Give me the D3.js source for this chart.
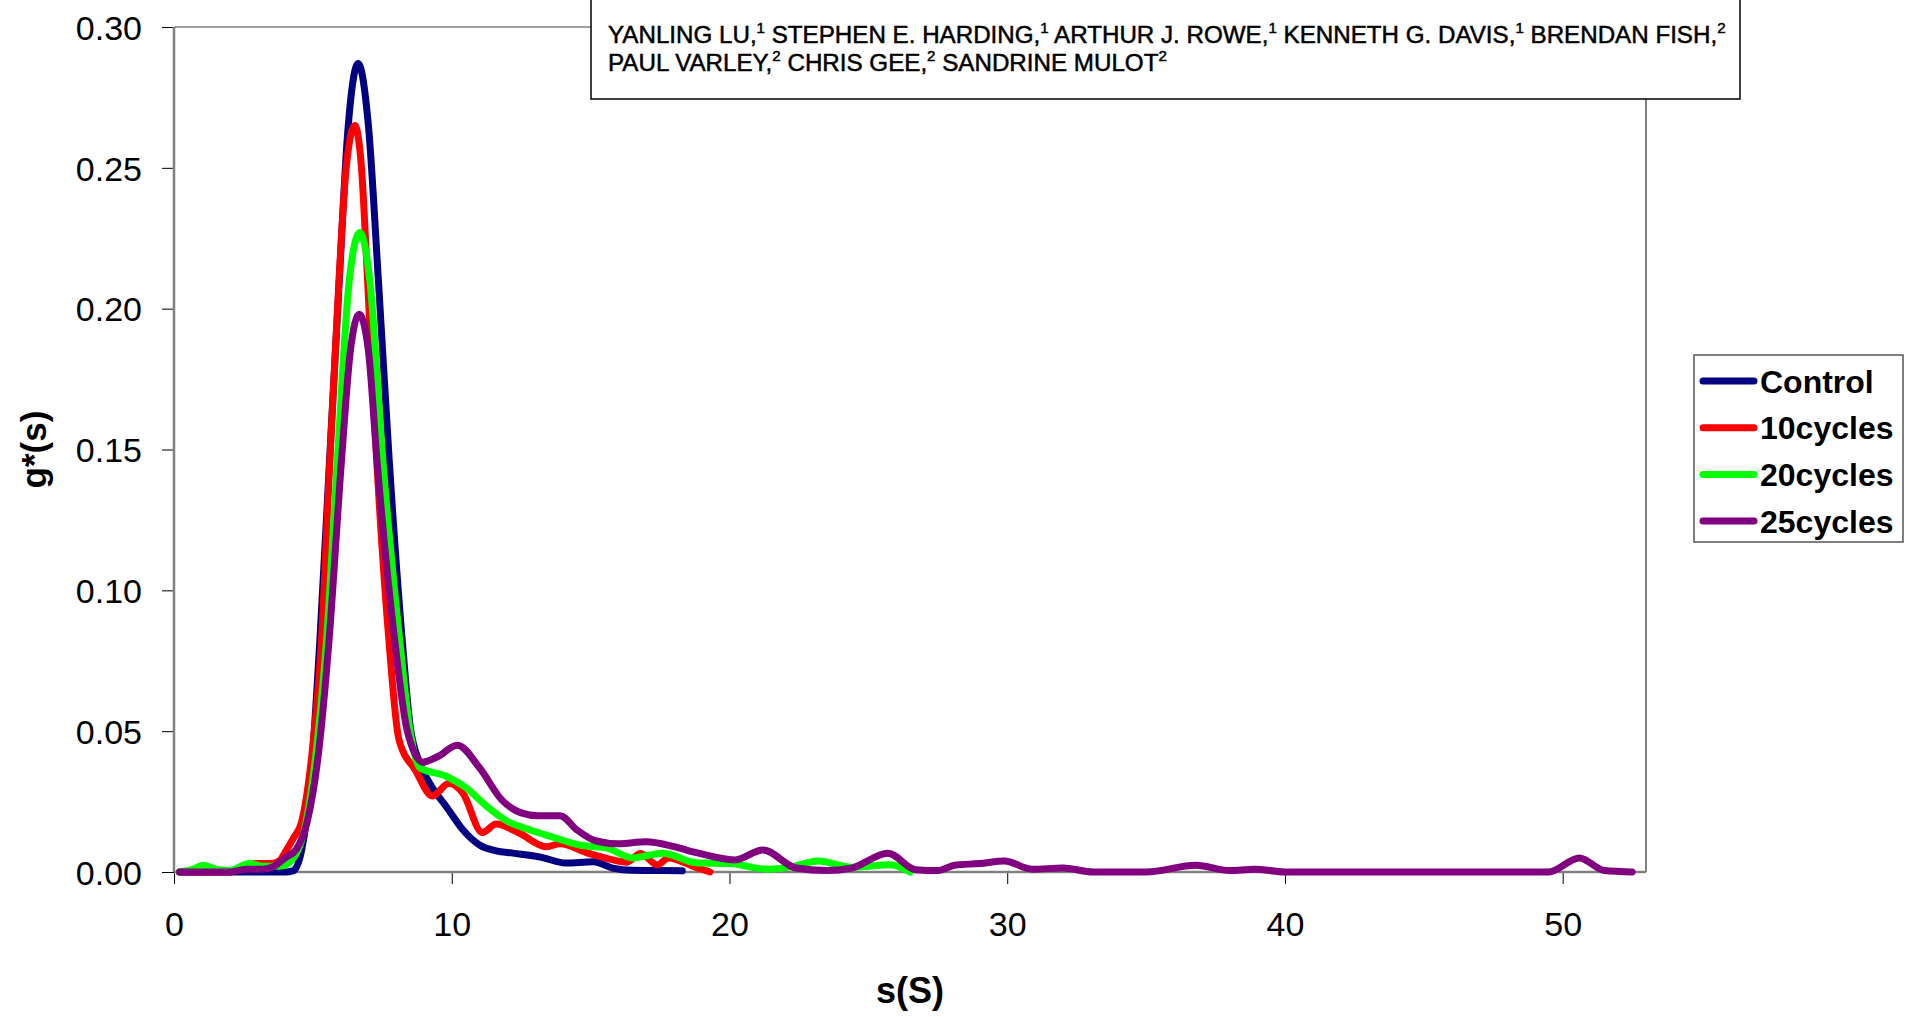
<!DOCTYPE html>
<html><head><meta charset="utf-8">
<script src="https://cdn.jsdelivr.net/npm/d3@7/dist/d3.min.js"></script>
<style>body{margin:0;background:#fff} svg{display:block}</style>
</head><body>
<svg id="c" width="1910" height="1017"></svg>
<script>
// ---------- data ----------
const seriesNames = ["Control", "10cycles", "20cycles", "25cycles"];
const seriesColors = ["#000080", "#FF0000", "#00FF00", "#800080"];

const controlData = [[0.2,0],[2,0],[4,0],[4.3,0.0005],[4.6,0.008],[4.9,0.03],[5.25,0.082],[5.6,0.146],[5.95,0.21],[6.25,0.262],[6.63,0.287],[7.0,0.265],[7.36,0.21],[7.75,0.146],[8.22,0.082],[8.5,0.052],[8.85,0.0387],[9.3,0.03],[9.82,0.023],[10.4,0.015],[11.0,0.0096],[11.6,0.0075],[12.2,0.0067],[13.2,0.0053],[14.1,0.0032],[15.1,0.0036],[15.8,0.0014],[16.5,0.0006],[17.5,0.0005],[18.3,0.0004]];

const cycles10Data = [[0.2,0],[2,0],[2.5,0.002],[3.0,0.003],[3.5,0.003],[3.8,0.004],[4.0,0.007],[4.3,0.012],[4.6,0.018],[5.0,0.045],[5.31,0.082],[5.61,0.146],[5.94,0.21],[6.2,0.25],[6.51,0.265],[6.75,0.25],[6.97,0.21],[7.3,0.146],[7.74,0.082],[8.1,0.047],[8.7,0.036],[9.3,0.027],[9.9,0.0315],[10.4,0.028],[11.1,0.014],[11.6,0.017],[12.4,0.014],[13.4,0.009],[13.9,0.010],[14.9,0.0067],[15.8,0.0043],[16.3,0.0035],[16.8,0.0066],[17.4,0.0025],[17.8,0.005],[18.7,0.002],[19.3,0]];

const cycles20Data = [[0.2,0],[0.7,0.001],[1.04,0.0024],[1.5,0.001],[2.0,0.0005],[2.7,0.003],[3.2,0.002],[3.8,0.002],[4.3,0.005],[4.8,0.02],[5.2,0.05],[5.49,0.082],[5.88,0.146],[6.31,0.21],[6.69,0.227],[7.05,0.21],[7.52,0.146],[8.13,0.082],[8.5,0.05],[8.85,0.037],[9.8,0.034],[10.5,0.030],[11.3,0.023],[12.0,0.018],[12.8,0.015],[13.6,0.0125],[14.6,0.0096],[15.6,0.0085],[16.5,0.005],[17.6,0.0067],[18.8,0.0033],[20.0,0.003],[21.4,0.001],[22.3,0.002],[23.2,0.0039],[24.4,0.0017],[25.8,0.0026],[26.5,0]];

const cycles25Data = [[0.2,0],[2.0,0],[2.6,0.001],[3.2,0.001],[3.6,0.002],[4.0,0.005],[4.4,0.008],[4.8,0.018],[5.2,0.042],[5.58,0.082],[6.03,0.146],[6.35,0.185],[6.67,0.198],[7.0,0.185],[7.31,0.146],[7.95,0.082],[8.4,0.05],[8.96,0.039],[9.5,0.041],[10.2,0.045],[11.0,0.037],[11.8,0.0256],[12.5,0.021],[13.1,0.020],[13.9,0.020],[14.5,0.015],[15.2,0.011],[16.0,0.010],[17.0,0.0107],[18.0,0.009],[18.8,0.0069],[20.2,0.0043],[21.2,0.0078],[22.4,0.0014],[23.5,0.0005],[24.4,0.0014],[25.7,0.0067],[26.7,0.0008],[27.5,0.0005],[28.1,0.0024],[29.0,0.003],[29.9,0.0039],[30.9,0.001],[32.0,0.0014],[33.1,0],[35,0],[36.8,0.0024],[38.0,0.0005],[38.9,0.001],[40,0],[49.5,0],[50.6,0.005],[51.5,0.0005],[52.5,0]];

const xTicks = [0, 10, 20, 30, 40, 50];
const yTicks = [0, 0.05, 0.10, 0.15, 0.20, 0.25, 0.30];
const xLabel = "s(S)";
const yLabel = "g*(s)";
const authorLine1 = [["YANLING LU,",0],["1",1],[" STEPHEN E. HARDING,",0],["1",1],[" ARTHUR J. ROWE,",0],["1",1],[" KENNETH G. DAVIS,",0],["1",1],[" BRENDAN FISH,",0],["2",1]];
const authorLine2 = [["PAUL VARLEY,",0],["2",1],[" CHRIS GEE,",0],["2",1],[" SANDRINE MULOT",0],["2",1]];

const allSeries = [controlData, cycles10Data, cycles20Data, cycles25Data];

// ---------- layout ----------
const svg = d3.select("#c");
const L = 174, R = 1646, T = 27, B = 872;
const x = d3.scaleLinear().domain([0, 53]).range([L, R]);
const y = d3.scaleLinear().domain([0, 0.30]).range([B, T]);
const sans = "'Liberation Sans', Arial, sans-serif";

// top / right border
svg.append("line").attr("x1", L).attr("x2", R).attr("y1", T).attr("y2", T).attr("stroke", "#808080").attr("stroke-width", 1.5);
svg.append("line").attr("x1", R).attr("x2", R).attr("y1", T).attr("y2", B).attr("stroke", "#808080").attr("stroke-width", 2);

// axes
const yAxis = svg.append("g").attr("transform", `translate(${L},0)`)
  .call(d3.axisLeft(y).tickValues(yTicks).tickFormat(d3.format(".2f")).tickSize(12).tickPadding(20));
const xAxis = svg.append("g").attr("transform", `translate(0,${B})`)
  .call(d3.axisBottom(x).tickValues(xTicks).tickFormat(d3.format("d")).tickSize(12).tickPadding(28));
[yAxis, xAxis].forEach(a => {
  a.select(".domain").remove();
  a.selectAll(".tick line").attr("stroke", "#000").attr("stroke-width", 1);
  a.selectAll(".tick text").attr("font-family", sans).attr("font-size", 34).attr("fill", "#000");
});
yAxis.selectAll(".tick text").attr("dy", "0.36em");

svg.append("line").attr("x1", L).attr("x2", L).attr("y1", T).attr("y2", B).attr("stroke", "#808080").attr("stroke-width", 2.5);
svg.append("line").attr("x1", L).attr("x2", R).attr("y1", B).attr("y2", B).attr("stroke", "#808080").attr("stroke-width", 2.5);

// series
const line = d3.line().x(d => x(d[0])).y(d => y(d[1])).curve(d3.curveMonotoneX);
allSeries.forEach((data, i) => {
  svg.append("path").datum(data).attr("d", line)
    .attr("fill", "none").attr("stroke", seriesColors[i]).attr("stroke-width", 7)
    .attr("stroke-linejoin", "round").attr("stroke-linecap", "round");
});

// axis titles
svg.append("text").attr("x", (L + R) / 2).attr("y", 1003).attr("text-anchor", "middle")
  .attr("font-family", sans).attr("font-weight", "bold").attr("font-size", 36).text(xLabel);
svg.append("text").attr("transform", `translate(46,${(T + B) / 2}) rotate(-90)`).attr("text-anchor", "middle")
  .attr("font-family", sans).attr("font-weight", "bold").attr("font-size", 35).text(yLabel);

// legend
const lg = svg.append("g");
lg.append("rect").attr("x", 1694).attr("y", 355).attr("width", 209).attr("height", 187)
  .attr("fill", "#fff").attr("stroke", "#555").attr("stroke-width", 1.5);
seriesNames.forEach((n, i) => {
  const yy = 381 + i * 46.7;
  lg.append("line").attr("x1", 1703).attr("x2", 1754).attr("y1", yy).attr("y2", yy)
    .attr("stroke", seriesColors[i]).attr("stroke-width", 7).attr("stroke-linecap", "round");
  lg.append("text").attr("x", 1760).attr("y", yy).attr("dy", "0.36em")
    .attr("font-family", sans).attr("font-weight", "bold").attr("font-size", 32).text(n);
});

// authors box
svg.append("rect").attr("x", 591).attr("y", -2).attr("width", 1149).attr("height", 101)
  .attr("fill", "#fff").attr("stroke", "#000").attr("stroke-width", 1.5);
const narrow = "'Liberation Sans Narrow', 'Liberation Sans', Arial, sans-serif";
function authorText(parts) {
  const t = svg.append("text").attr("font-family", narrow).attr("font-size", 24)
    .attr("fill", "#000").attr("stroke", "#000").attr("stroke-width", 0.5);
  let prevSup = false;
  parts.forEach(p => {
    if (p[1]) {
      t.append("tspan").attr("font-size", 15).attr("dy", -10).text(p[0]);
      prevSup = true;
    } else {
      t.append("tspan").attr("dy", prevSup ? 10 : 0).text(p[0]);
      prevSup = false;
    }
  });
  return t;
}
const t1 = authorText(authorLine1);
const t2 = authorText(authorLine2);
const w1 = t1.node().getBBox().width;
const sx = 1118 / w1;
t1.attr("transform", `translate(608,43) scale(${sx},1)`);
t2.attr("transform", `translate(608,71) scale(${sx},1)`);
</script>
</body></html>
